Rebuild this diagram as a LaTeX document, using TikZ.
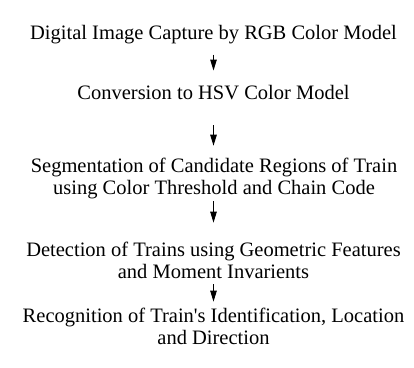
\documentclass[tikz,border=0pt]{standalone}
\usepackage{fontspec}
\setmainfont{Liberation Serif}[Ligatures=TeXOff]
\usetikzlibrary{arrows.meta}
\begin{document}
\begin{tikzpicture}[x=1pt,y=1pt,
  stage/.style={align=center,inner sep=0pt,
    font=\fontsize{20.5}{22.5}\selectfont},
  flow/.style={line width=1pt,
    -{Triangle[length=11pt,width=6.5pt]}}]
\useasboundingbox (0,0) rectangle (414,-367);
% processing stages, top to bottom
\node[stage] (cap) at (213.5,-35) {Digital Image Capture by RGB Color Model};
\node[stage] (hsv) at (213.5,-93) {Conversion to HSV Color Model};
\node[stage] (seg) at (214,-178.6) {Segmentation of Candidate Regions of Train\\using Color Threshold and Chain Code};
\node[stage] (det) at (213.5,-260.4) {Detection of Trains using Geometric Features\\and Moment Invarients};
\node[stage] (rec) at (213.5,-326.4) {Recognition of Train's Identification, Location\\and Direction};
% flow arrows between stages
\draw[flow,shorten <=10pt,shorten >=15pt] (cap.south -| 213.5,0) -- (hsv.north -| 213.5,0);
\draw[flow,shorten <=25pt,shorten >=12pt] (hsv.south -| 213.5,0) -- (seg.north -| 213.5,0);
\draw[flow,shorten <=2pt,shorten >=19pt] (seg.south -| 213.5,0) -- (det.north -| 213.5,0);
\draw[flow,shorten <=5pt,shorten >=6pt] (det.south -| 213.5,0) -- (rec.north -| 213.5,0);
\end{tikzpicture}
\end{document}
